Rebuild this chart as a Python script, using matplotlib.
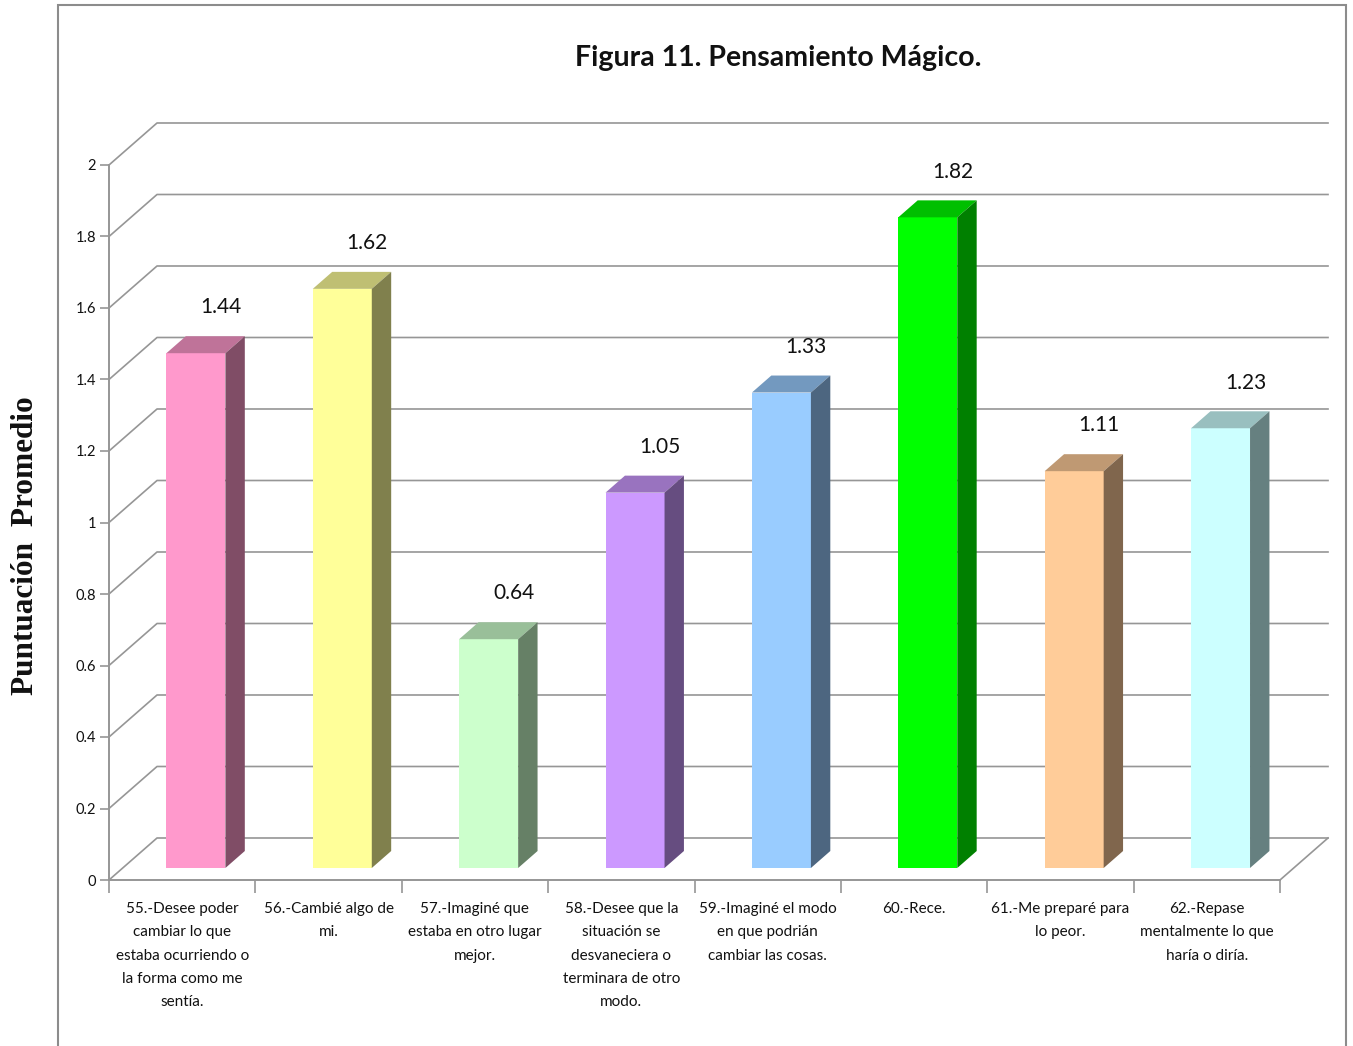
import matplotlib
matplotlib.use("Agg")
import matplotlib.pyplot as plt
from matplotlib.patches import Polygon, Rectangle
import numpy as np

# Figura 11 - puntuacion promedio por item
items = [
    "55.-Desee poder\ncambiar lo que\nestaba ocurriendo o\nla forma como me\nsentía.",
    "56.-Cambié algo de\nmi.",
    "57.-Imaginé que\nestaba en otro lugar\nmejor.",
    "58.-Desee que la\nsituación se\ndesvaneciera o\nterminara de otro\nmodo.",
    "59.-Imaginé el modo\nen que podrián\ncambiar las cosas.",
    "60.-Rece.",
    "61.-Me preparé para\nlo peor.",
    "62.-Repase\nmentalmente lo que\nharía o diría.",
]
values = [1.44, 1.62, 0.64, 1.05, 1.33, 1.82, 1.11, 1.23]
colors = ["#FF99CC", "#FFFF99", "#CCFFCC", "#CC99FF",
          "#99CCFF", "#00FF00", "#FFCC99", "#CCFFFF"]
yticks = [0, 0.2, 0.4, 0.6, 0.8, 1, 1.2, 1.4, 1.6, 1.8, 2]

W, H = 1353, 1046
fig = plt.figure(figsize=(W / 100, H / 100), dpi=100)
fig.patch.set_facecolor("white")

# outer frame
fig.patches.append(Rectangle((58 / W, -0.05), (1346 - 58) / W, 1.05 - 5 / H,
                             transform=fig.transFigure, fill=False,
                             edgecolor="#8c8c8c", lw=1.5))

ax = fig.add_axes([109 / W, 166 / H, 1171 / W, 715 / H])
ax.set_xlim(0, 8)
ax.set_ylim(0, 2)
ax.patch.set_visible(False)

# oblique depth of the 3d box (category units, value units)
DX, DY = 0.328, 0.1175
F0, F1 = 0.286, 0.69   # depth range the bars occupy
BW = 0.403
grid_c = "#969696"
txt_c = "#111111"

n = len(values)
for v in yticks:
    ax.plot([0, DX, n + DX], [v, v + DY, v + DY], color=grid_c, lw=1.2,
            clip_on=False, zorder=1)
ax.plot([n, n + DX], [0, DY], color=grid_c, lw=1.2, clip_on=False, zorder=1)


def shade(c, k):
    rgb = np.array(matplotlib.colors.to_rgb(c)) * k
    return tuple(rgb)


for i, (v, c) in enumerate(zip(values, colors)):
    x0 = i + 0.5 - BW / 2 + F0 * DX
    x1 = x0 + BW
    y0 = F0 * DY
    y1 = v + y0
    ddx = (F1 - F0) * DX
    ddy = (F1 - F0) * DY
    front = Polygon([(x0, y0), (x1, y0), (x1, y1), (x0, y1)], closed=True,
                    facecolor=c, edgecolor="none", zorder=3, clip_on=False)
    top = Polygon([(x0, y1), (x1, y1), (x1 + ddx, y1 + ddy), (x0 + ddx, y1 + ddy)],
                  closed=True, facecolor=shade(c, 0.75), edgecolor="none",
                  zorder=3, clip_on=False)
    side = Polygon([(x1, y0), (x1 + ddx, y0 + ddy), (x1 + ddx, y1 + ddy), (x1, y1)],
                   closed=True, facecolor=shade(c, 0.5), edgecolor="none",
                   zorder=3, clip_on=False)
    for p in (front, top, side):
        ax.add_patch(p)
    ax.text((x0 + x1) / 2 + 0.17, y1 + 0.128, f"{v:.2f}", ha="center",
            va="center", fontsize=15, family="Lato", color=txt_c)

# axes lines
for s in ("top", "right"):
    ax.spines[s].set_visible(False)
for s in ("left", "bottom"):
    ax.spines[s].set_color(grid_c)
    ax.spines[s].set_linewidth(1.4)

ax.set_yticks(yticks)
ax.set_yticklabels([f"{t:g}" for t in yticks], fontsize=10.5,
                   family="Lato", color=txt_c)
ax.tick_params(axis="y", direction="out", length=6.5, width=1.2, color=grid_c, pad=3)

ax.set_xticks(range(n + 1))
ax.set_xticklabels([])
ax.tick_params(axis="x", which="major", direction="out", length=9, width=1.2,
               color=grid_c)
ax.set_xticks(np.arange(n) + 0.5, minor=True)
ax.set_xticklabels(items, minor=True, fontsize=11, family="Lato",
                   linespacing=1.84, va="top", color=txt_c)
ax.tick_params(axis="x", which="minor", length=0, pad=16)

fig.text(778 / W, 1 - 58 / H, "Figura 11. Pensamiento Mágico.", ha="center",
         va="center", fontsize=20.5, fontweight="bold", family="Lato", color=txt_c)
fig.text(26 / W, 1 - 546 / H, "Puntuación  Promedio", rotation=90, ha="center",
         va="center", fontsize=22.5, fontweight="bold", family="Liberation Serif",
         color=txt_c)

fig.savefig("out.png", dpi=100)
